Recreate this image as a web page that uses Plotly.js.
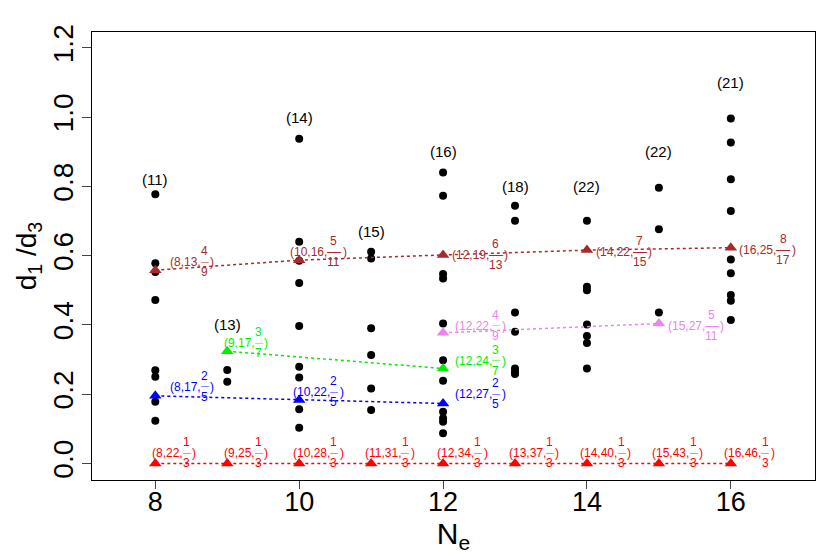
<!DOCTYPE html>
<html>
<head>
<meta charset="utf-8">
<script src="https://cdn.plot.ly/plotly-3.0.1.min.js"></script>
<style>
  html, body { margin: 0; padding: 0; background: #fff; }
  #chart { width: 830px; height: 554px; }
</style>
</head>
<body>
<div id="chart"></div>
<script>
// black points: d1/d3 for every state at given Ne
const dotX = [8, 8, 8, 8, 8, 8, 8, 8,
  9, 9,
  10, 10, 10, 10, 10, 10, 10, 10, 10,
  11, 11, 11, 11, 11, 11,
  12, 12, 12, 12, 12, 12, 12, 12, 12, 12, 12,
  13, 13, 13, 13, 13, 13, 13,
  14, 14, 14, 14, 14, 14, 14,
  15, 15, 15,
  16, 16, 16, 16, 16, 16, 16, 16, 16];
const dotY = [0.777, 0.578, 0.553, 0.472, 0.269, 0.250, 0.178, 0.123,
  0.270, 0.236,
  0.938, 0.640, 0.585, 0.521, 0.397, 0.279, 0.248, 0.156, 0.103,
  0.611, 0.592, 0.390, 0.313, 0.216, 0.154,
  0.840, 0.773, 0.547, 0.534, 0.404, 0.298, 0.239, 0.149, 0.130, 0.120, 0.087,
  0.744, 0.701, 0.436, 0.380, 0.274, 0.265, 0.258,
  0.701, 0.510, 0.500, 0.401, 0.368, 0.348, 0.274,
  0.796, 0.676, 0.436,
  0.996, 0.927, 0.821, 0.729, 0.589, 0.549, 0.486, 0.470, 0.414];

// counts written above each column
const countX = [8, 9, 10, 11, 12, 13, 14, 15, 16];
const countY = [0.82, 0.40, 1.0, 0.67, 0.9, 0.8, 0.8, 0.9, 1.1];
const countText = ["(11)", "(13)", "(14)", "(15)", "(16)", "(18)", "(22)", "(22)", "(21)"];

// triangle series (Ne, Nphi, nu)
const brownX = [8, 10, 12, 14, 16];
const brownY = [0.558, 0.587, 0.602, 0.616, 0.623];
const brownPhi = [13, 16, 19, 22, 25];
const brownNum = [4, 5, 6, 7, 8];
const brownDen = [9, 11, 13, 15, 17];

const greenX = [9, 12];
const greenY = [0.324, 0.274];
const greenPhi = [17, 24];
const greenNum = [3, 3];
const greenDen = [7, 7];

const blueX = [8, 10, 12];
const blueY = [0.195, 0.183, 0.173];
const bluePhi = [17, 22, 27];
const blueNum = [2, 2, 2];
const blueDen = [5, 5, 5];

const violetX = [12, 15];
const violetY = [0.377, 0.404];
const violetPhi = [22, 27];
const violetNum = [4, 5];
const violetDen = [9, 11];

const redX = [8, 9, 10, 11, 12, 13, 14, 15, 16];
const redY = [0, 0, 0, 0, 0, 0, 0, 0, 0];
const redPhi = [22, 25, 28, 31, 34, 37, 40, 43, 46];
const redNum = [1, 1, 1, 1, 1, 1, 1, 1, 1];
const redDen = [3, 3, 3, 3, 3, 3, 3, 3, 3];

const font = "Liberation Sans, Arial, Helvetica, sans-serif";
const labelSize = 12;

// where each label sits: centre offset in Ne units, and pixels up from the point
const labelPlace = {
  brown: [[0.5, 8], [0.25, 8], [0.5, 0], [0.5, -2], [0.5, -2]],
  green: [[0.25, 8], [0.5, 8]],
  blue: [[0.5, 9], [0.25, 8], [0.5, 9]],
  violet: [[0.5, 7], [0.5, -2]],
  red: redX.map(() => [0.25, 10])
};

const series = [
  { key: "brown", color: "#A52A2A", x: brownX, y: brownY, phi: brownPhi, num: brownNum, den: brownDen },
  { key: "green", color: "#00EE00", x: greenX, y: greenY, phi: greenPhi, num: greenNum, den: greenDen },
  { key: "blue", color: "#0000FF", x: blueX, y: blueY, phi: bluePhi, num: blueNum, den: blueDen },
  { key: "violet", color: "#EE82EE", x: violetX, y: violetY, phi: violetPhi, num: violetNum, den: violetDen },
  { key: "red", color: "#FF0000", x: redX, y: redY, phi: redPhi, num: redNum, den: redDen }
];

const ctx = document.createElement("canvas").getContext("2d");
ctx.font = labelSize + "px 'Liberation Sans'";
function textWidth(s) { return ctx.measureText(s).width; }

const traces = [{
  x: dotX,
  y: dotY,
  type: "scatter",
  mode: "markers",
  marker: { color: "black", size: 8 },
  hoverinfo: "x+y"
}];

const annotations = [];

series.forEach(s => {
  traces.push({
    x: s.x,
    y: s.y,
    type: "scatter",
    mode: "lines+markers",
    line: { color: s.color, dash: "dot", width: 1.5 },
    marker: { color: s.color, symbol: "triangle-up", size: 11 },
    hoverinfo: "x+y"
  });

  s.x.forEach((xv, i) => {
    const place = labelPlace[s.key][i];
    const prefix = `(${xv},${s.phi[i]},`;
    const numS = String(s.num[i]);
    const denS = String(s.den[i]);
    const barSize = denS.length > 1 ? 14 : 8;
    const wp = textWidth(prefix);
    const wf = Math.max(textWidth(numS), textWidth(denS), barSize * 0.95);
    const wc = textWidth(")");
    const total = wp + 1 + wf + 1 + wc;
    const left = -total / 2;
    const fracMid = left + wp + 1 + wf / 2;
    const base = {
      x: xv + place[0],
      y: s.y[i],
      xref: "x",
      yref: "y",
      showarrow: false,
      xanchor: "left",
      yanchor: "middle",
      borderpad: 0,
      font: { family: font, size: labelSize, color: s.color }
    };
    annotations.push(Object.assign({}, base, { text: prefix, xshift: left, yshift: place[1] }));
    // stacked fraction: numerator, bar, denominator
    annotations.push(Object.assign({}, base, { text: numS, xanchor: "center", xshift: fracMid, yshift: place[1] + 11 }));
    annotations.push(Object.assign({}, base, {
      text: "—", xanchor: "center", xshift: fracMid, yshift: place[1] + 1,
      font: { family: font, size: barSize, color: s.color }
    }));
    annotations.push(Object.assign({}, base, { text: denS, xanchor: "center", xshift: fracMid, yshift: place[1] - 10 }));
    annotations.push(Object.assign({}, base, { text: ")", xshift: left + wp + 1 + wf + 1, yshift: place[1] }));
  });
});

countX.forEach((xv, i) => {
  annotations.push({
    x: xv,
    y: countY[i],
    xref: "x",
    yref: "y",
    text: countText[i],
    showarrow: false,
    font: { family: font, size: 15, color: "black" }
  });
});

const layout = {
  width: 830,
  height: 554,
  margin: { l: 92, r: 15, t: 32, b: 74 },
  paper_bgcolor: "white",
  plot_bgcolor: "white",
  showlegend: false,
  font: { family: font, color: "black" },
  xaxis: {
    range: [7.12, 17.17],
    tickvals: [8, 10, 12, 14, 16],
    ticks: "outside",
    ticklen: 8,
    tickcolor: "#444",
    tickfont: { family: font, size: 27, color: "black" },
    ticklabelstandoff: -10,
    showline: true,
    mirror: true,
    linecolor: "black",
    linewidth: 1,
    showgrid: false,
    zeroline: false,
    title: { text: "N<sub>e</sub>", font: { family: font, size: 30, color: "black" }, standoff: 4 }
  },
  yaxis: {
    range: [-0.048, 1.246],
    tickvals: [0, 0.2, 0.4, 0.6, 0.8, 1.0, 1.2],
    ticktext: ["0.0", "0.2", "0.4", "0.6", "0.8", "1.0", "1.2"],
    tickangle: -90,
    ticks: "outside",
    ticklen: 9,
    tickcolor: "#444",
    tickfont: { family: font, size: 28, color: "black" },
    ticklabelstandoff: -2,
    showline: true,
    mirror: true,
    linecolor: "black",
    linewidth: 1,
    showgrid: false,
    zeroline: false,
    title: { text: "d<sub>1</sub> /d<sub>3</sub>", font: { family: font, size: 28, color: "black" }, standoff: 2 }
  },
  annotations: annotations
};

Plotly.newPlot("chart", traces, layout, { displayModeBar: false, staticPlot: true });
</script>
</body>
</html>
